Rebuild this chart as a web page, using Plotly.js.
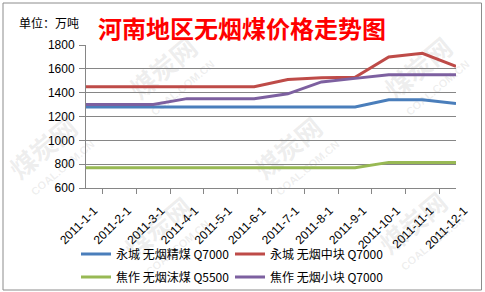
<!DOCTYPE html>
<html>
<head>
<meta charset="utf-8">
<script src="https://cdn.plot.ly/plotly-3.0.1.min.js"></script>
<style>
  html, body { margin: 0; padding: 0; background: #fff; }
  #chart { width: 485px; height: 292px; }
</style>
</head>
<body>
<div id="chart"></div>
<script>
// Monthly dates (first of each month, 2011)
var months = ['2011-1-1', '2011-2-1', '2011-3-1', '2011-4-1', '2011-5-1', '2011-6-1',
              '2011-7-1', '2011-8-1', '2011-9-1', '2011-10-1', '2011-11-1', '2011-12-1'];

// Anthracite prices per product
var yongchengFine   = [1280, 1280, 1280, 1280, 1280, 1280, 1280, 1280, 1280, 1340, 1340, 1310];
var yongchengMedium = [1450, 1450, 1450, 1450, 1450, 1450, 1510, 1525, 1530, 1700, 1730, 1620];
var jiaozuoPowder   = [770, 770, 770, 770, 770, 770, 770, 770, 770, 815, 815, 815];
var jiaozuoSmall    = [1300, 1300, 1300, 1350, 1350, 1350, 1390, 1490, 1520, 1550, 1550, 1550];

var seriesNames = ['永城 无烟精煤 Q7000', '永城 无烟中块 Q7000',
                   '焦作 无烟沫煤 Q5500', '焦作 无烟小块 Q7000'];

var yTicks = [600, 800, 1000, 1200, 1400, 1600, 1800];

var W = 485, H = 292;
var M = { l: 86, r: 29, t: 45, b: 104 };
var PW = W - M.l - M.r, PH = H - M.t - M.b;
// pixel -> paper coordinates
function px(x) { return (x - M.l) / PW; }
function py(y) { return (H - M.b - y) / PH; }

var gridColor = '#868686';
var latin = 'Liberation Sans, Arial, sans-serif';
var cjk = 'Noto Sans CJK SC, sans-serif';

function line(y, name, color, legendId) {
  return {
    type: 'scatter', mode: 'lines', x: months, y: y, name: name,
    line: { color: color, width: 3 }, legend: legendId, hoverinfo: 'x+y'
  };
}

// one legend box per entry, laid out as a 2 x 2 grid
var data = [
  line(yongchengFine,   seriesNames[0], '#4A7EBB', 'legend'),
  line(yongchengMedium, seriesNames[1], '#BE4B48', 'legend2'),
  line(jiaozuoPowder,   seriesNames[2], '#98B954', 'legend3'),
  line(jiaozuoSmall,    seriesNames[3], '#7D60A0', 'legend4')
];

// legend boxes are placed against the whole figure so they never push the margins
function legendAt(x, y) {
  return {
    orientation: 'h', xanchor: 'left', yanchor: 'middle',
    xref: 'container', yref: 'container',
    x: x / W, y: 1 - y / H, bgcolor: 'rgba(0,0,0,0)',
    font: { family: cjk, size: 12, color: '#000' },
    itemwidth: 30
  };
}

// Faint site watermark tiled behind the plot
var markCenters = [[45, 150], [165, 70], [160, 230], [290, 150], [420, 70], [415, 225]];
var markColor = 'rgba(150,150,150,0.16)';
var watermark = [];
markCenters.forEach(function (c) {
  watermark.push({
    type: 'rect', xref: 'paper', yref: 'paper', layer: 'below',
    x0: px(c[0] - 30), x1: px(c[0] + 30), y0: py(c[1] + 30), y1: py(c[1] - 30),
    line: { width: 0 }, fillcolor: 'rgba(0,0,0,0)',
    label: { text: '煤炭网', textangle: -40, textposition: 'middle center',
             font: { family: cjk, size: 26, weight: 'bold', color: markColor } }
  });
  watermark.push({
    type: 'rect', xref: 'paper', yref: 'paper', layer: 'below',
    x0: px(c[0] - 8), x1: px(c[0] + 42), y0: py(c[1] + 42), y1: py(c[1] - 8),
    line: { width: 0 }, fillcolor: 'rgba(0,0,0,0)',
    label: { text: 'COAL.COM.CN', textangle: -40, textposition: 'middle center',
             font: { family: latin, size: 11, weight: 'bold', color: markColor } }
  });
});

var layout = {
  width: W, height: H,
  margin: M,
  paper_bgcolor: '#fff', plot_bgcolor: 'rgba(0,0,0,0)',
  showlegend: true,
  legend:  legendAt(76, 254),
  legend2: legendAt(230, 254),
  legend3: legendAt(76, 277),
  legend4: legendAt(230, 277),
  xaxis: {
    type: 'category', tickson: 'boundaries',
    ticks: 'outside', ticklen: 5, tickcolor: gridColor, tickwidth: 1,
    showline: true, linecolor: gridColor, linewidth: 1,
    showgrid: false, tickangle: -45,
    ticklabelshift: 8, ticklabelstandoff: 10,
    tickfont: { family: latin, size: 12, color: '#000' }
  },
  yaxis: {
    range: [600, 1800], tickvals: yTicks,
    ticks: 'outside', ticklen: 6, tickcolor: gridColor, tickwidth: 1,
    showline: true, linecolor: gridColor, linewidth: 1,
    showgrid: true, gridcolor: gridColor, gridwidth: 1, zeroline: false,
    ticklabelstandoff: 2,
    tickfont: { family: latin, size: 12, color: '#000' }
  },
  annotations: [
    {
      text: '河南地区无烟煤价格走势图', xref: 'paper', yref: 'paper',
      x: px(242), y: py(27), xanchor: 'center', yanchor: 'middle',
      showarrow: false, font: { family: cjk, size: 24, weight: 'bold', color: '#FF0000' }
    },
    {
      text: '单位：万吨', xref: 'paper', yref: 'paper',
      x: px(17), y: py(22), xanchor: 'left', yanchor: 'middle',
      showarrow: false, font: { family: cjk, size: 12, color: '#000' }
    }
  ],
  shapes: watermark.concat([
    {
      type: 'rect', xref: 'paper', yref: 'paper',
      x0: px(3), x1: px(481.5), y0: py(290), y1: py(3),
      line: { color: '#8c8c8c', width: 1 }, layer: 'above'
    }
  ])
};

Plotly.newPlot('chart', data, layout, { displayModeBar: false, staticPlot: true });
</script>
</body>
</html>
